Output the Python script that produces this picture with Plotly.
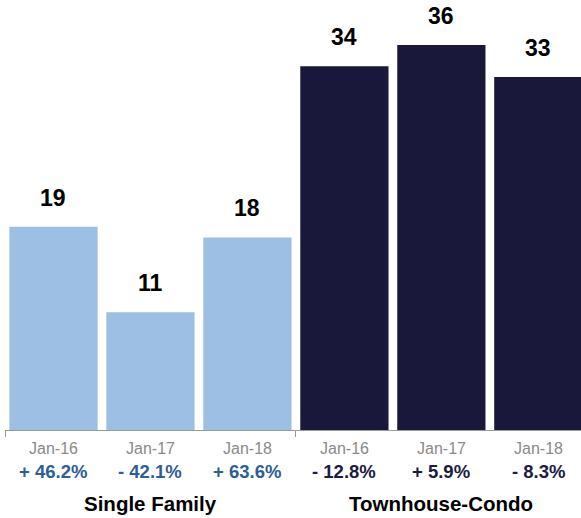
import plotly.graph_objects as go

categories = ["Jan-16", "Jan-17", "Jan-18", "Jan-16", "Jan-17", "Jan-18"]
values = [19, 11, 18, 34, 36, 33]
changes = ["+ 46.2%", "- 42.1%", "+ 63.6%", "- 12.8%", "+ 5.9%", "- 8.3%"]
groups = ["Single Family", "Townhouse-Condo"]
group_sizes = [3, 3]

bar_colors = ["#9dbfe4"] * 3 + ["#19183b"] * 3
change_colors = ["#2e5e98"] * 3 + ["#1c1b45"] * 3

x = list(range(len(values)))
FONT = "Liberation Sans, Arial, Helvetica, sans-serif"

fig = go.Figure()
fig.add_trace(go.Bar(x=x, y=values, marker=dict(color=bar_colors, line=dict(width=0)),
                     width=0.91, hoverinfo="skip"))

ann = []
for i, v in enumerate(values):
    ann.append(dict(x=i, y=v, xref="x", yref="y", text=f"<b>{v}</b>", showarrow=False,
                    yanchor="bottom", yshift=14, font=dict(size=23, color="#000", family=FONT)))
    ann.append(dict(x=i, y=0, xref="x", yref="paper", text=categories[i], showarrow=False,
                    yanchor="middle", yshift=-18, font=dict(size=16, color="#8a8a8a", family=FONT)))
    ann.append(dict(x=i, y=0, xref="x", yref="paper", text=f"<b>{changes[i]}</b>", showarrow=False,
                    yanchor="middle", yshift=-41, font=dict(size=18.5, color=change_colors[i], family=FONT)))
start = 0
for g, n in zip(groups, group_sizes):
    ann.append(dict(x=start + (n - 1) / 2, y=0, xref="x", yref="paper", text=f"<b>{g}</b>",
                    showarrow=False, yanchor="middle", yshift=-73,
                    font=dict(size=20.5, color="#000", family=FONT)))
    start += n

boundaries = [-0.5, 2.5, 5.5]
fig.update_layout(
    width=581, height=518,
    margin=dict(l=5, r=0, t=0, b=88),
    paper_bgcolor="white", plot_bgcolor="white",
    showlegend=False,
    annotations=ann,
    xaxis=dict(range=[-0.5, 5.44], tickvals=boundaries, ticktext=["", "", ""],
               ticks="outside", ticklen=6, tickcolor="#999", showline=True,
               linecolor="#999", linewidth=1, showgrid=False, zeroline=False, fixedrange=True),
    yaxis=dict(range=[0, 40.2], visible=False, showgrid=False, fixedrange=True),
)
fig.write_html("out.html", config={"displayModeBar": False},
               post_script="document.body.style.margin='0';document.body.style.overflow='hidden';")
